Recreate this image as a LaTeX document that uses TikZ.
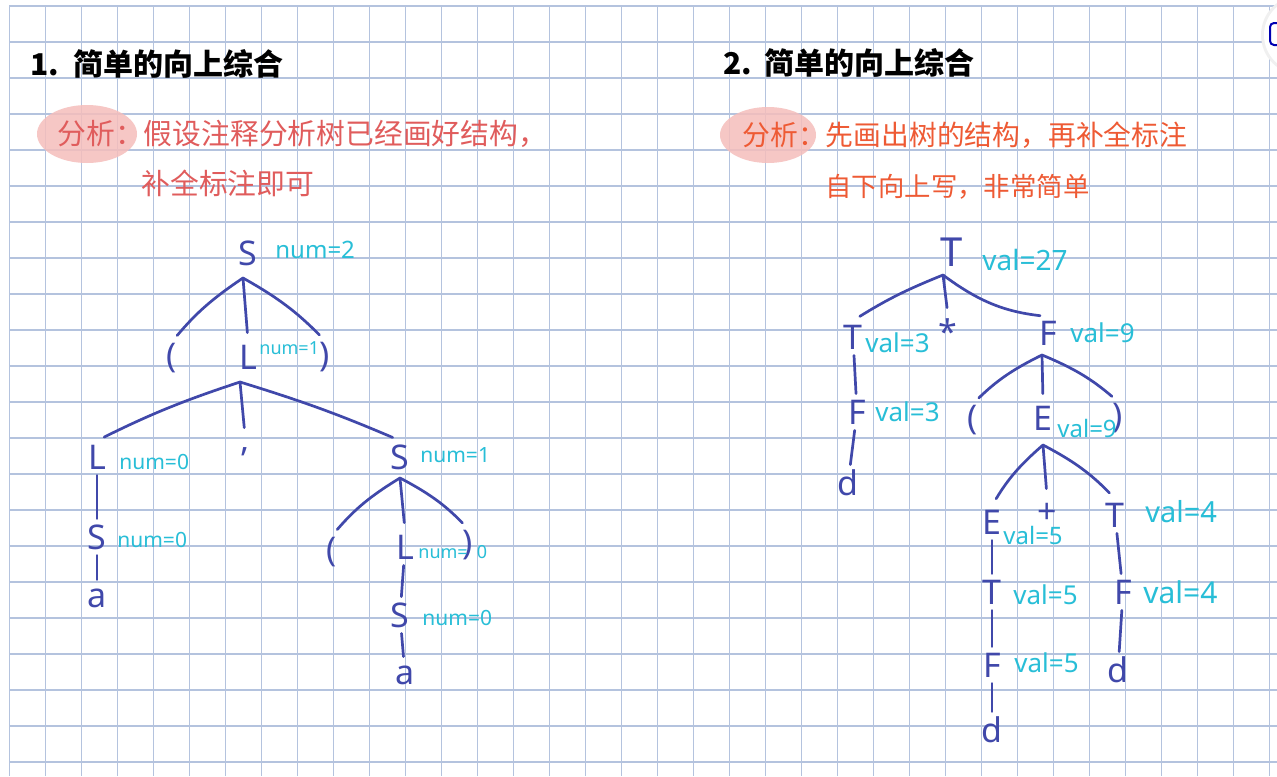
\documentclass[tikz,border=0pt]{standalone}
\usepackage{fontspec}
\setmainfont{Noto Sans}
\newfontfamily\cjk{Noto Sans CJK SC}
\usetikzlibrary{positioning}

\definecolor{ink}{HTML}{4048AA}
\definecolor{attrc}{HTML}{28BED7}
\definecolor{gridc}{HTML}{B4C3DE}
\definecolor{redpen}{HTML}{E05C5C}
\definecolor{orangepen}{HTML}{EE5A34}
\definecolor{marker}{HTML}{F5BEBB}

\tikzset{
  sym/.style={text=ink, font=\fontsize{17}{17}\selectfont, inner sep=0pt, minimum height=16pt, on grid},
  attr/.style={text=attrc, font=\fontsize{13}{13}\selectfont, inner sep=0pt},
  numattr/.style={attr, font=\fontsize{10.5}{10.5}\selectfont},
  heading/.style={anchor=west, inner sep=0pt, font=\cjk\bfseries\fontsize{15}{15}\selectfont},
  note/.style={anchor=west, inner sep=0pt, font=\cjk\fontsize{14.4}{14.4}\selectfont},
  branch/.style={draw=ink, line width=1.35pt, line cap=round, shorten >=4pt},
  link/.style={draw=ink, line width=1.35pt, line cap=round, shorten <=1pt, shorten >=1pt},
  gridline/.style={draw=gridc, line width=0.65pt},
}

\begin{document}
\begin{tikzpicture}[x=0.5pt, y=-0.5pt]
  \useasboundingbox (0,0) rectangle (1277,776);
  \fill[white] (0,0) rectangle (1277,776);
  \clip (0,0) rectangle (1277,776);
  % squared paper
  \foreach \k in {0,...,35}
    \draw[gridline] ({9.3+36*\k},6) -- ({9.3+36*\k},776);
  \foreach \k in {0,...,21}
    \draw[gridline] (9.3,{6+36*\k}) -- (1277,{6+36*\k});
  % corner button
  \fill[black!6] (1301,35) circle [radius=40];
  \fill[white] (1301,35) circle [radius=37];
  \draw[blue!70!black, line width=1pt, rounded corners=2pt] (1270,23) rectangle (1292,45);

  % headings and notes
  \fill[marker, opacity=0.85] (87,134) ellipse [x radius=50, y radius=29];
  \fill[marker, opacity=0.85] (768,135) ellipse [x radius=48, y radius=28];
  \node[heading] (h1) at (30,64) {1.\hspace{7pt}简单的向上综合};
  \node[heading] (h2) at (723,63) {2.\hspace{6pt}简单的向上综合};
  \node[note, text=redpen] (n1) at (57,134) {分析：假设注释分析树已经画好结构，};
  \node[note, text=redpen] (n1b) at (141,183) {补全标注即可};
  \node[note, text=orangepen, font=\cjk\fontsize{13.9}{13.9}\selectfont] (n2) at (742,135) {分析：先画出树的结构，再补全标注};
  \node[note, text=orangepen, font=\cjk\fontsize{13.2}{13.2}\selectfont] (n2b) at (825,187) {自下向上写，非常简单};

  % tree 1
  \node[sym] (s0) at (248,253) {S};
  \node[sym, below left=52.5pt and 38pt of s0] (lp0) {(};
  \node[sym, below=52pt of s0] (l0) {L};
  \node[sym, below right=52pt and 38.5pt of s0] (rp0) {)};
  \node[sym, below left=50pt and 75.5pt of l0] (l1) {L};
  \node[sym, below left=47.5pt and 1.5pt of l0] (cm) {,};
  \node[sym, below right=50pt and 76pt of l0] (s1) {S};
  \node[sym, below=40pt of l1] (s2) {S};
  \node[sym, below=30.5pt of s2] (a1) {a};
  \node[sym, below left=47.5pt and 34pt of s1] (lp1) {(};
  \node[sym, below right=45pt and 2.5pt of s1] (l2) {L};
  \node[sym, below right=44pt and 34pt of s1] (rp1) {)};
  \node[sym, below left=34pt and 2.5pt of l2] (s3) {S};
  \node[sym, below right=30pt and 2.5pt of s3] (a2) {a};

  \node[numattr, font=\fontsize{12}{12}\selectfont, right=13.5pt of s0.center, yshift=1.5pt] (s0n) {num=2};
  \node[numattr, font=\fontsize{9}{9}\selectfont, right=5.5pt of l0.center, yshift=4.5pt] (l0n) {num=1};
  \node[numattr, right=11pt of l1.center, yshift=-2.5pt] (l1n) {num=0};
  \node[numattr, right=10pt of s1.center, yshift=1pt] (s1n) {num=1};
  \node[numattr, right=10pt of s2.center, yshift=-1.5pt] (s2n) {num=0};
  \node[numattr, font=\fontsize{9}{9}\selectfont, right=6.5pt of l2.center, yshift=-2.5pt] (l2n) {num=\hspace{4.5pt}0};
  \node[numattr, right=11pt of s3.center, yshift=-1.5pt] (s3n) {num=0};

  \coordinate[on grid, below left=12.5pt and 2.5pt of s0] (s0j);
  \coordinate[on grid, below left=12.5pt and 4pt of l0] (l0j);
  \coordinate[on grid, below=10.5pt of s1] (s1j);
  \draw[branch] (s0j) to[bend right=8] (lp0.north);
  \draw[branch] (s0j) -- (l0.north);
  \draw[branch] (s0j) to[bend left=8] (rp0.north);
  \draw[branch] (l0j) to[bend right=4] (l1.north);
  \draw[branch] (l0j) -- (cm.north);
  \draw[branch] (l0j) to[bend left=3] (s1.north);
  \draw[link] (l1) -- (s2);
  \draw[link] (s2) -- (a1);
  \draw[branch] (s1j) to[bend right=9] (lp1.north);
  \draw[branch] (s1j) -- (l2.north);
  \draw[branch] (s1j) to[bend left=9] (rp1.north);
  \draw[link] (l2) -- (s3);
  \draw[link] (s3) -- (a2);

  % tree 2
  \node[sym, font=\fontsize{20}{20}\selectfont] (t0) at (952,252) {T};
  \node[sym, below left=42.5pt and 49.5pt of t0] (t1) {T};
  \node[sym, below left=40pt and 2pt of t0] (st) {*};
  \node[sym, below right=40.5pt and 48pt of t0] (f0) {F};
  \node[sym, below right=37.5pt and 2pt of t1] (f1) {F};
  \node[sym, below left=35.5pt and 4.5pt of f1] (d1) {d};
  \node[sym, below left=43.5pt and 37.5pt of f0] (lp2) {(};
  \node[sym, below left=42.5pt and 2.5pt of f0] (e0) {E};
  \node[sym, below right=42.5pt and 35pt of f0] (rp2) {)};
  \node[sym, below left=52pt and 25.5pt of e0] (e1) {E};
  \node[sym, below right=47.5pt and 2pt of e0] (pl) {+};
  \node[sym, below right=48.5pt and 36pt of e0] (t2) {T};
  \node[sym, below=35pt of e1] (t3) {T};
  \node[sym, below=36.5pt of t3] (f2) {F};
  \node[sym, below=32.5pt of f2] (d2) {d};
  \node[sym, below right=38.5pt and 4pt of t2] (f3) {F};
  \node[sym, below left=39pt and 2.5pt of f3] (d3) {d};

  \node[attr, font=\fontsize{14}{14}\selectfont, right=15pt of t0.center, yshift=-4pt] (t0v) {val=27};
  \node[attr, right=6pt of t1.center, yshift=-3pt] (t1v) {val=3};
  \node[attr, right=11pt of f0.center] (f0v) {val=9};
  \node[attr, right=9pt of f1.center] (f1v) {val=3};
  \node[attr, font=\fontsize{12}{12}\selectfont, right=7pt of e0.center, yshift=-5pt] (e0v) {val=9};
  \node[attr, font=\fontsize{12}{12}\selectfont, right=5.5pt of e1.center, yshift=-6.5pt] (e1v) {val=5};
  \node[attr, font=\fontsize{14.5}{14.5}\selectfont, right=15pt of t2.center, yshift=1.5pt] (t2v) {val=4};
  \node[attr, right=10.5pt of t3.center, yshift=-1.5pt] (t3v) {val=5};
  \node[attr, right=11pt of f2.center, yshift=1pt] (f2v) {val=5};
  \node[attr, font=\fontsize{15}{15}\selectfont, right=10pt of f3.center] (f3v) {val=4};

  \coordinate[on grid, below left=11.5pt and 4.5pt of t0] (t0j);
  \coordinate[on grid, below left=11pt and 3pt of f0] (f0j);
  \coordinate[on grid, below=13.5pt of e0] (e0j);
  \draw[branch] (t0j) to[bend right=5] (t1.north);
  \draw[branch] (t0j) -- (st.north);
  \draw[branch] (t0j) to[bend right=15] (f0.north);
  \draw[link] (t1) -- (f1);
  \draw[link] (f1) -- (d1);
  \draw[branch] (f0j) to[bend right=9] (lp2.north);
  \draw[branch] (f0j) -- (e0.north);
  \draw[branch] (f0j) to[bend left=9] (rp2.north);
  \draw[branch] (e0j) to[bend right=9] (e1.north);
  \draw[branch] (e0j) -- (pl.north);
  \draw[branch] (e0j) to[bend left=9] (t2.north);
  \draw[link] (e1) -- (t3);
  \draw[link] (t3) -- (f2);
  \draw[link] (f2) -- (d2);
  \draw[link] (t2) -- (f3);
  \draw[link] (f3) -- (d3);
\end{tikzpicture}
\end{document}
